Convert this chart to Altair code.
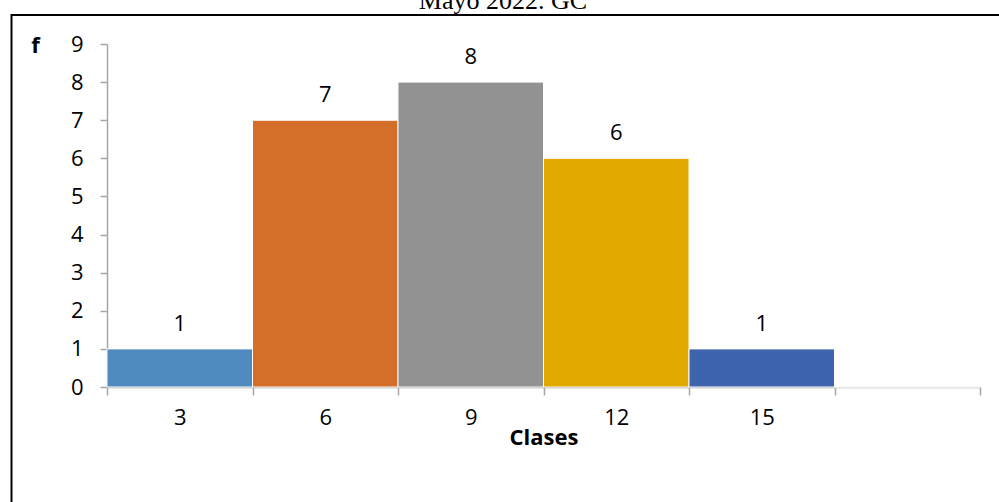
import json
import altair as alt
import pandas as pd

# ---- data ----
clases = ["3", "6", "9", "12", "15", ""]
frecuencias = [1, 7, 8, 6, 1, 0]
colores = ["#4F8ABE", "#D46F2A", "#929292", "#E1A800", "#3E64AD", "#FFFFFF"]
titulo = "Mayo 2022. GC"
eje_x = "Clases"
eje_y = "f"

FONT = "Open Sans"
W, H = 873, 343

df = pd.DataFrame({
    "clase": clases,
    "f": frecuencias,
    "color": colores,
    "idx": list(range(len(clases))),
})
df["lo"] = df["idx"]
df["hi"] = df["idx"] + 1
df["mid"] = df["idx"] + 0.5

n = len(clases)
tick_vals = [i / 2 for i in range(2 * n + 1)]
label_expr = (
    "(datum.value % 1) == 0.5 ? " + json.dumps(clases) + "[floor(datum.value)] : ''"
)

x_scale = alt.Scale(domain=[0, n], nice=False, zero=False)
y_scale = alt.Scale(domain=[0, 9], nice=False)

x_axis = alt.Axis(
    values=tick_vals,
    labelExpr=label_expr,
    labelOverlap=False,
    labelFont=FONT,
    labelFontSize=22,
    labelColor="#000000",
    labelPadding=12,
    tickSize=8,
    tickWidth=1.5,
    tickColor="#A6A6A6",
    tickOpacity=alt.expr("(datum.value % 1) == 0 ? 1 : 0"),
    domainColor="#A6A6A6",
    domainWidth=1.5,
    grid=False,
    title=eje_x,
    titleFont=FONT,
    titleFontSize=22,
    titleFontWeight="bold",
    titleColor="#000000",
    titleBaseline="middle",
    titleY=50,
)

y_axis = alt.Axis(
    values=list(range(10)),
    labelOverlap=False,
    labelFont=FONT,
    labelFontSize=22,
    labelColor="#000000",
    labelPadding=17,
    tickSize=7,
    tickWidth=1.5,
    tickColor="#A6A6A6",
    domainColor="#A6A6A6",
    domainWidth=1.5,
    grid=False,
    title=eje_y,
    titleAngle=0,
    titleFont=FONT,
    titleFontSize=22,
    titleFontWeight="bold",
    titleColor="#000000",
    titleAlign="center",
    titleBaseline="middle",
    titleX=-72,
    titleY=1,
)

base = alt.Chart(df)

bars = base.mark_rect(stroke="white", strokeWidth=1).encode(
    x=alt.X("lo:Q", scale=x_scale, axis=x_axis),
    x2="hi:Q",
    y=alt.Y("f:Q", scale=y_scale, axis=y_axis),
    y2=alt.datum(0),
    color=alt.Color("color:N", scale=None, legend=None),
)

labels = base.transform_filter("datum.f > 0").mark_text(
    font=FONT, fontSize=22, color="#000000", baseline="alphabetic", dy=-18
).encode(
    x=alt.X("mid:Q", scale=x_scale, axis=x_axis),
    y=alt.Y("f:Q", scale=y_scale, axis=y_axis),
    text=alt.Text("f:Q"),
)

deco = alt.Chart(alt.Data(values=[{"t": titulo}]))

border = deco.mark_rect(
    filled=False, stroke="#000000", strokeWidth=2
).encode(
    x=alt.value(-95.5),
    x2=alt.value(905),
    y=alt.value(-29),
    y2=alt.value(470),
)

title_txt = deco.mark_text(
    font="Liberation Serif", fontSize=26, color="#000000",
    baseline="alphabetic", align="center",
).encode(
    x=alt.value(396),
    y=alt.value(-35),
    text="t:N",
)

chart = alt.layer(bars, labels, border, title_txt).properties(
    width=W,
    height=H,
    autosize=alt.AutoSizeParams(type="none"),
    padding={"left": 107, "top": 44, "right": 19, "bottom": 115},
    background="white",
).configure_view(stroke=None)

chart.save("out.html", embed_options={"renderer": "svg", "actions": False})
